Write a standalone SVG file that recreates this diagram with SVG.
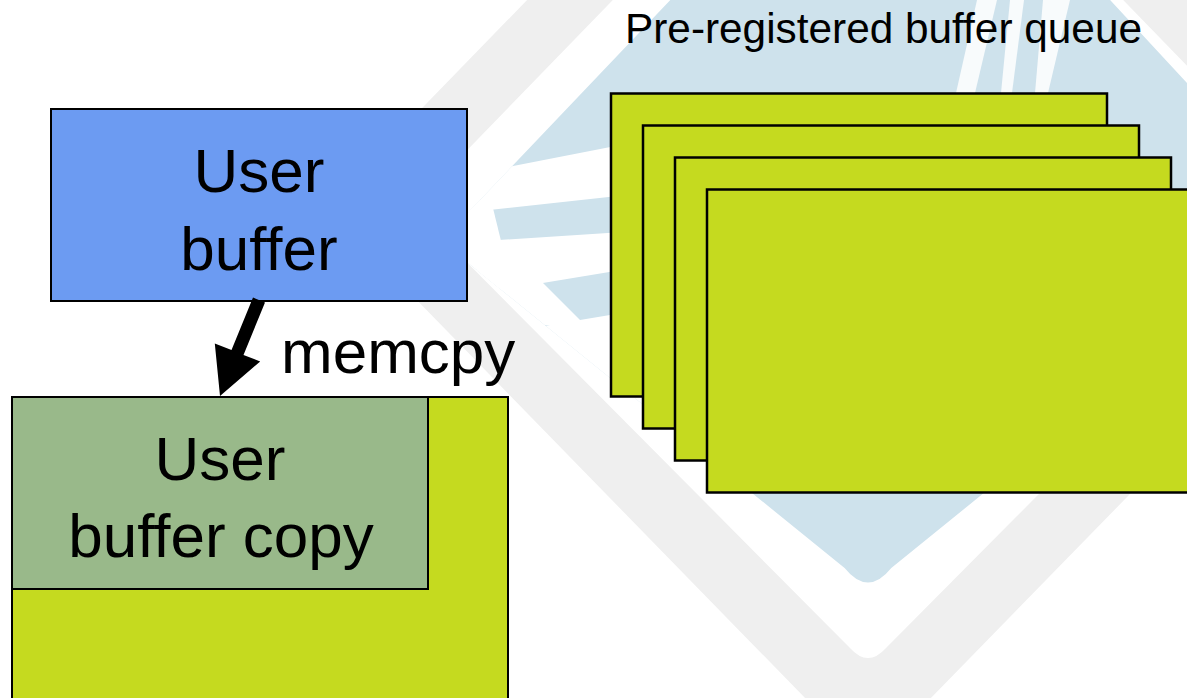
<svg xmlns="http://www.w3.org/2000/svg" width="1187" height="698" viewBox="0 0 1187 698">
<style>
  text { font-family: "Liberation Sans", Arial, sans-serif; fill: #000; }
  .big { font-size: 62px; text-anchor: middle; }
  .box { stroke: #000; stroke-width: 2; }
  .buf { fill: #c5da1f; stroke: #000; stroke-width: 2.5; }
  .wm-white { fill: #fff; }
</style>
<defs>
  <clipPath id="diamondClip">
    <path d="M893,-234 L1317,223 L891.3,568 Q868,597 844.6,568 L441,241 Z"/>
  </clipPath>
</defs>
<rect width="1187" height="698" fill="#fff"/>
<g id="watermark">
  <path d="M868,-351 L1410,207 L888,742 Q868,768 848,742 L326,207 Z" fill="#efefef"/>
  <path d="M868,-263 L1324,207 L886,648 Q868,668 850,648 L412,207 Z" fill="#fff"/>
  <path d="M893,-234 L1317,223 L891.3,568 Q868,597 844.6,568 L441,241 Z" fill="#cee2ec"/>
  <g clip-path="url(#diamondClip)" class="wm-white">
    <polygon points="400,188 700,129.5 700,187 400,219.7"/>
    <polygon points="440,200 491,200 502,245 440,245"/>
    <polygon points="400,246.4 700,227 700,257 400,306.5"/>
    <polygon points="470,270 530,270 585,325 470,325"/>
    <polygon points="400,350 700,300 700,420 400,420"/>
    <polygon points="977,0 997,0 975,93 956,93" opacity="0.85"/>
    <polygon points="1010,0 1024,0 1012,93 1001,93" opacity="0.85"/>
    <polygon points="1043,0 1070,0 1048,93 1035,93" opacity="0.85"/>
  </g>
</g>
<g id="queue-title">
  <text x="625" y="43" font-size="42" textLength="517" lengthAdjust="spacingAndGlyphs">Pre-registered buffer queue</text>
</g>
<g id="buffer-queue">
  <rect class="buf" x="611" y="93.5" width="496" height="303"/>
  <rect class="buf" x="643" y="125.5" width="496" height="303"/>
  <rect class="buf" x="675" y="157.5" width="496" height="303"/>
  <rect class="buf" x="707" y="189.5" width="496" height="303"/>
</g>
<g id="user-buffer">
  <rect class="box" x="51" y="109" width="416" height="192" fill="#6c9bf2"/>
  <text class="big" x="259" y="192">User</text>
  <text class="big" x="259" y="270">buffer</text>
</g>
<g id="registered-buffer">
  <rect class="box" x="12" y="397" width="496" height="320" fill="#c5da1f"/>
</g>
<g id="user-buffer-copy">
  <rect class="box" x="12" y="397" width="416" height="192" fill="#99b98a"/>
  <text class="big" x="220" y="480">User</text>
  <text class="big" x="221" y="557">buffer copy</text>
</g>
<g id="connectors">
  <polygon points="265,302.4 253,297.6 231.5,350.1 214.8,343.5 220,396 260.2,361.5 243.5,354.9" fill="#000"/>
  <text x="281" y="373" font-size="62">memcpy</text>
</g>
</svg>
